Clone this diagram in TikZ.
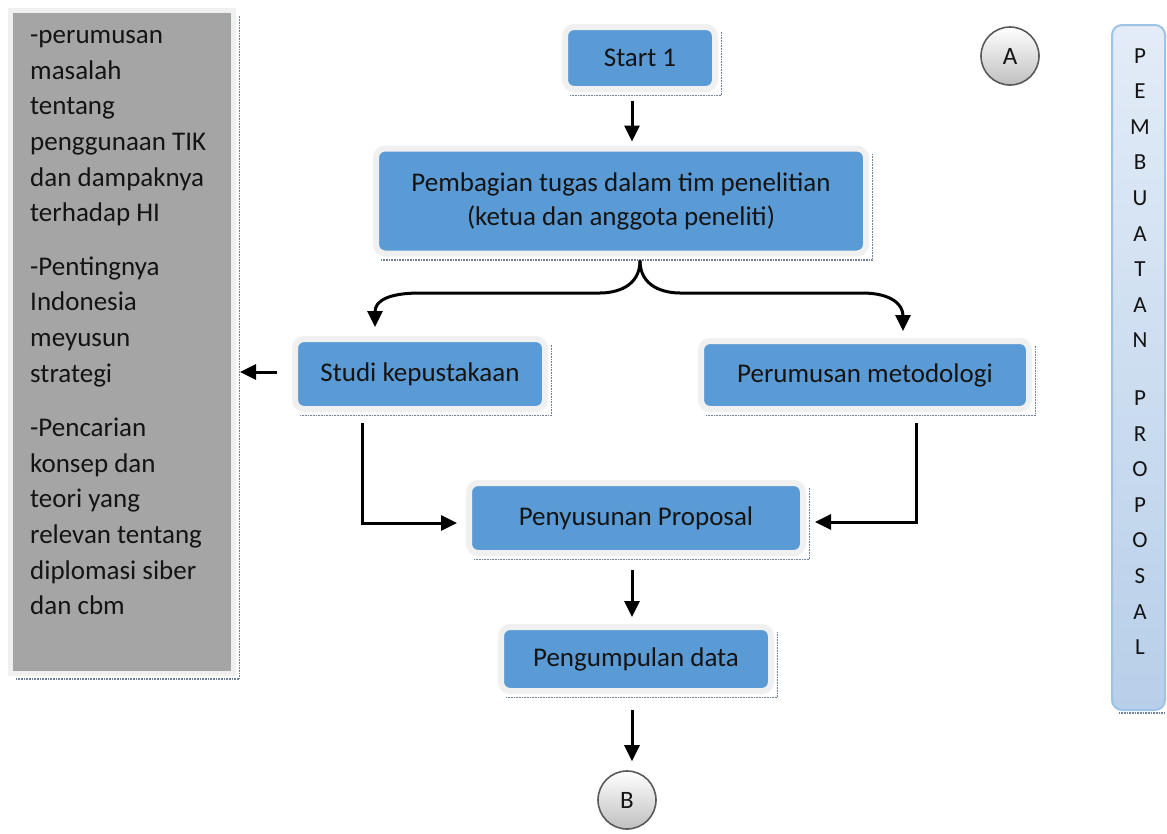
\documentclass[tikz,border=0pt]{standalone}
\usepackage{fontspec}
\setmainfont{Carlito}
\usetikzlibrary{arrows.meta}
\definecolor{boxblue}{HTML}{5B9BD5}
\definecolor{rim}{HTML}{F0F0F0}
\definecolor{panelgray}{HTML}{A5A5A5}
\definecolor{shadowc}{HTML}{6F7F99}
\definecolor{sidetop}{HTML}{E3ECF7}
\definecolor{sidebot}{HTML}{B7CFE9}
\definecolor{sideedge}{HTML}{9DC3E6}
\definecolor{txt}{HTML}{141414}
\newcommand\boxshadow[1]{\draw[shadowline] ([shift={(8pt,-3.5pt)}]#1.south west) -- ([shift={(3.5pt,-3.5pt)}]#1.south east) -- ([shift={(3.5pt,-8pt)}]#1.north east);}
\begin{document}
\begin{tikzpicture}[x=1pt,y=-1pt,
  stepbox/.style={rectangle, rounded corners=9pt, fill=boxblue, draw=rim, line width=6pt,
    font=\fontsize{27}{34}\selectfont, text=txt, align=center, inner sep=0pt},
  shadowline/.style={dash pattern=on 0.8pt off 0.8pt, line width=1.4pt, draw=shadowc},
  arr/.style={line width=3pt, -{Triangle[length=16pt,width=15pt]}},
  conn/.style={circle, draw=gray!70!black, line width=1.6pt, top color=white, bottom color=gray!50,
    minimum size=58pt, inner sep=0pt, font=\fontsize{25}{28}\selectfont, text=txt}]
\useasboundingbox (0,0) rectangle (1167,833);

% left grey panel
\node[rectangle, fill=panelgray, draw=rim, line width=5pt, minimum width=223pt, minimum height=663pt, inner sep=0pt] (gbox) at (122,341.5) {};
\boxshadow{gbox}
\node[anchor=north west, inner sep=0pt, align=left, font=\fontsize{27}{35.6}\selectfont, text=txt] (gtext) at (30,18.6)
  {\strut-perumusan\\masalah\\tentang\\penggunaan TIK\\dan dampaknya\\terhadap HI\\[18pt]
   -Pentingnya\\Indonesia\\meyusun\\strategi\\[19pt]
   -Pencarian\\konsep dan\\teori yang\\relevan tentang\\diplomasi siber\\dan cbm};

% right side panel
\node[rectangle, rounded corners=10pt, top color=sidetop, bottom color=sidebot, draw=sideedge, line width=2pt,
  minimum width=53pt, minimum height=685pt, inner sep=0pt] (side) at (1138.5,367.5) {};
\draw[shadowline] ([shift={(8pt,-2pt)}]side.south west) -- ([shift={(-2pt,-2pt)}]side.south east);
\node[anchor=north, inner sep=0pt, align=center, font=\fontsize{23}{35.6}\selectfont, text=txt] (sidetext) at (1140,38)
  {\strut P\\E\\M\\B\\U\\A\\T\\A\\N\\[22pt]P\\R\\O\\P\\O\\S\\A\\L};

% flow boxes
\node[stepbox, minimum width=150pt, minimum height=62pt] (start) at (640,58) {Start 1};
\node[stepbox, minimum width=490pt, minimum height=105pt] (pemb) at (621,201) {Pembagian tugas dalam tim penelitian\\(ketua dan anggota peneliti)};
\node[stepbox, minimum width=250pt, minimum height=70pt] (studi) at (420,374) {Studi kepustakaan};
\node[stepbox, minimum width=328pt, minimum height=68pt] (perum) at (865,375) {Perumusan metodologi};
\node[stepbox, minimum width=334pt, minimum height=70pt] (penyu) at (636,518) {Penyusunan Proposal};
\node[stepbox, minimum width=270pt, minimum height=64pt] (pengum) at (636,659) {Pengumpulan data};
\foreach \n in {start,pemb,studi,perum,penyu,pengum}{\boxshadow{\n}}

% connectors
\node[conn] (A) at (1010,56) {A};
\node[conn] (B) at (627,800) {B};

\draw[arr, shorten >=4pt] ([xshift=-8pt,yshift=-9pt]start.south) -- ([xshift=-8pt]start.south |- pemb.north);
\draw[arr] ([xshift=19pt,yshift=-4pt]pemb.south) .. controls +(0,27) and +(15,0) .. (600,293) -- (420,293)
  .. controls +(-32,0) and +(0,-26) .. ([xshift=-45pt,yshift=9pt]studi.north);
\draw[arr] ([xshift=19pt,yshift=-4pt]pemb.south) .. controls +(0,27) and +(-15,0) .. (680,293) -- (862,293)
  .. controls +(30,0) and +(0,-26) .. ([xshift=38pt,yshift=7pt]perum.north);
\draw[arr, shorten >=4pt] ([xshift=-15pt,yshift=2pt]studi.west) -- ([yshift=2pt]gbox.east |- studi.west);
\draw[arr] ([xshift=-58pt,yshift=-11pt]studi.south) |- ([xshift=-9pt,yshift=-5pt]penyu.west);
\draw[arr] ([xshift=51pt,yshift=-11pt]perum.south) |- ([xshift=9pt,yshift=-4pt]penyu.east);
\draw[arr, shorten >=7pt] ([xshift=-4pt,yshift=-14pt]penyu.south) -- ([xshift=-4pt]penyu.south |- pengum.north);
\draw[arr, shorten >=9pt] ([xshift=-4pt,yshift=-16pt]pengum.south) -- ([xshift=-4pt]pengum.south |- B.north);
\end{tikzpicture}
\end{document}
